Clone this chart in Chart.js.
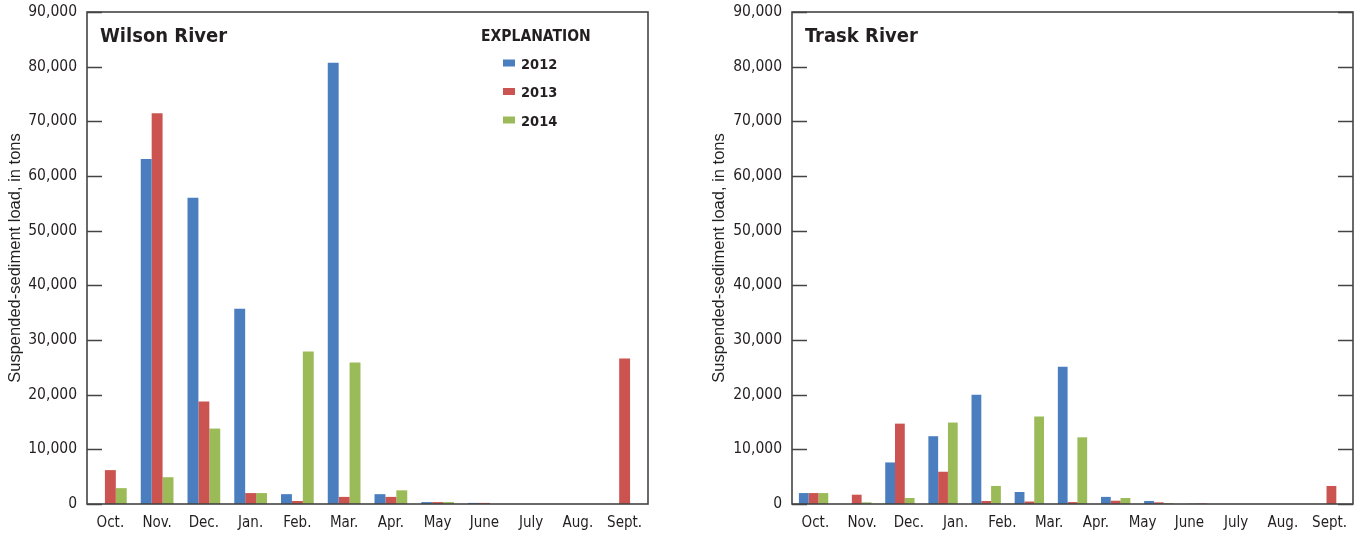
<!DOCTYPE html>
<html>
<head>
<meta charset="utf-8">
<script src="https://cdn.jsdelivr.net/npm/chart.js@4/dist/chart.umd.min.js"></script>
<style>
  html, body { margin: 0; padding: 0; background: #fff; }
  #wrap { position: relative; width: 1362px; height: 539px; }
  canvas { position: absolute; top: 0; }
  #wilson { left: 0; }
  #trask { left: 704px; }
</style>
</head>
<body>
<div id="wrap">
  <canvas id="wilson" width="660" height="539"></canvas>
  <canvas id="trask" width="658" height="539"></canvas>
</div>
<script>
const months = ['Oct.', 'Nov.', 'Dec.', 'Jan.', 'Feb.', 'Mar.', 'Apr.', 'May', 'June', 'July', 'Aug.', 'Sept.'];
const years = ['2012', '2013', '2014'];
const yearColors = ['#4a7ebf', '#cc5450', '#9bbb59'];
const yTicks = [0, 10000, 20000, 30000, 40000, 50000, 60000, 70000, 80000, 90000];

// Wilson River, one value per month (tons)
const wilson2012 = [0, 63100, 56000, 35700, 1800, 80700, 1800, 350, 200, 0, 0, 0];
const wilson2013 = [6200, 71500, 18750, 2000, 550, 1300, 1300, 350, 200, 0, 0, 26600];
const wilson2014 = [2900, 4900, 13800, 2000, 27900, 25900, 2500, 350, 0, 0, 0, 0];

// Trask River is plotted in 13 bar slots in the source figure
const traskSlots = ['', ...months];
const trask2012 = [2000, 0, 7600, 12400, 20000, 2200, 25100, 1300, 550, 50, 0, 0, 0];
const trask2013 = [2000, 1700, 14700, 5900, 550, 450, 350, 600, 300, 100, 0, 0, 3300];
const trask2014 = [2000, 300, 1100, 14900, 3300, 16000, 12200, 1100, 150, 0, 0, 0, 0];

const narrow = "'DejaVu Sans Condensed', sans-serif";
const textColor = '#231f20';

const framePlugin = {
  id: 'frame',
  afterDatasetsDraw(chart, args, opts) {
    const { ctx, chartArea: a } = chart;
    const y = chart.scales.y;
    ctx.save();
    ctx.strokeStyle = '#444';
    ctx.lineWidth = 1.6;
    ctx.strokeRect(a.left, a.top, a.right - a.left, a.bottom - a.top);
    ctx.beginPath();
    y.ticks.forEach(t => {
      const py = Math.round(y.getPixelForValue(t.value)) + 0.5;
      ctx.moveTo(a.left, py);
      ctx.lineTo(a.left + 15, py);
      if (opts.rightTicks) {
        ctx.moveTo(a.right - 15, py);
        ctx.lineTo(a.right, py);
      }
    });
    ctx.stroke();

    ctx.fillStyle = textColor;
    ctx.font = 'bold 20px ' + narrow;
    ctx.textBaseline = 'alphabetic';
    ctx.fillText(opts.title, a.left + 13, a.top + 30);

    if (opts.legend) {
      const lx = a.right - 167;
      ctx.font = 'bold 15.5px ' + narrow;
      ctx.fillText('EXPLANATION', lx, a.top + 29);
      ctx.font = 'bold 14.5px ' + narrow;
      chart.data.datasets.forEach((ds, i) => {
        const cy = a.top + 51 + i * 28.5;
        ctx.fillStyle = ds.backgroundColor;
        ctx.fillRect(lx + 22, cy - 3.5, 12, 7);
        ctx.fillStyle = textColor;
        ctx.fillText(ds.label, lx + 40, cy + 5.5);
      });
    }
    ctx.restore();
  }
};

function makeChart(id, slots, series, title, opts) {
  new Chart(document.getElementById(id), {
    type: 'bar',
    data: {
      labels: slots,
      datasets: series.map((vals, i) => ({
        label: years[i],
        data: vals,
        backgroundColor: yearColors[i],
        borderWidth: 0,
        barPercentage: 1,
        categoryPercentage: opts.catPct
      }))
    },
    options: {
      responsive: false,
      animation: false,
      layout: { padding: { top: 12, right: opts.padRight, bottom: 0, left: 0 } },
      plugins: {
        legend: { display: false },
        tooltip: { enabled: false },
        frame: { title: title, legend: opts.legend, rightTicks: opts.rightTicks }
      },
      scales: {
        x: { display: false },
        months: {
          type: 'category',
          position: 'bottom',
          labels: months,
          grid: { display: false, drawTicks: false },
          border: { display: false },
          ticks: {
            color: textColor,
            font: { family: narrow, size: 15 },
            padding: 10,
            maxRotation: 0,
            autoSkip: false
          },
          afterFit: s => { s.height = 35; s.paddingLeft = 0; s.paddingRight = 0; }
        },
        y: {
          min: 0,
          max: 90000,
          afterBuildTicks: s => { s.ticks = yTicks.map(v => ({ value: v })); },
          grid: { display: false, drawTicks: false },
          border: { display: false },
          ticks: {
            color: textColor,
            font: { family: narrow, size: 15.5 },
            padding: 10,
            callback: v => v.toLocaleString('en-US')
          },
          title: {
            display: true,
            text: 'Suspended-sediment load, in tons',
            color: textColor,
            font: { family: "'Liberation Sans', Arial, sans-serif", size: 16.5 },
            padding: { top: 6, bottom: 0 }
          },
          afterFit: s => { s.width = opts.yWidth; s.paddingTop = 0; s.paddingBottom = 0; }
        }
      }
    },
    plugins: [framePlugin]
  });
}

makeChart('wilson', months, [wilson2012, wilson2013, wilson2014], 'Wilson River',
  { catPct: 0.7, padRight: 12, yWidth: 87, legend: true, rightTicks: false });
makeChart('trask', traskSlots, [trask2012, trask2013, trask2014], 'Trask River',
  { catPct: 0.68, padRight: 9, yWidth: 88, legend: false, rightTicks: true });
</script>
</body>
</html>
